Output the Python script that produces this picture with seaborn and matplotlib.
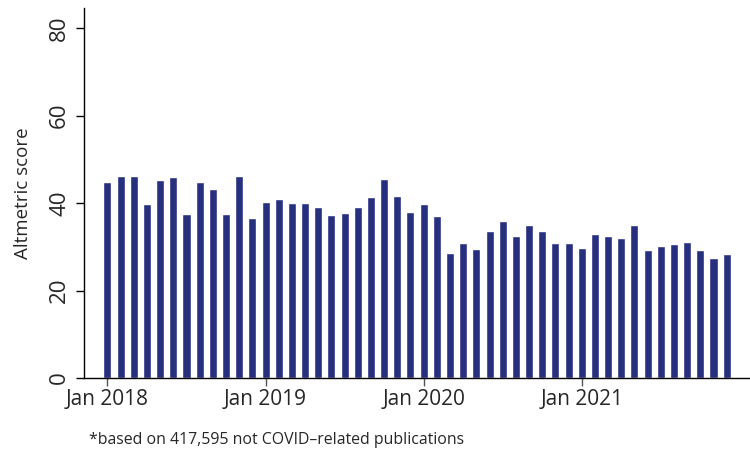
import matplotlib
matplotlib.use("Agg")
import matplotlib.pyplot as plt
import seaborn as sns
import pandas as pd

months = [f"{y}-{m:02d}" for y in (2018, 2019, 2020, 2021) for m in range(1, 13)]
scores = [44.9, 46.2, 46.1, 39.8, 45.2, 45.9, 37.4, 44.9, 43.2, 37.6, 46.2, 36.6,
          40.3, 40.9, 40.1, 40.1, 39.2, 37.2, 37.7, 39.2, 41.4, 45.5, 41.7, 38.0,
          39.8, 37.1, 28.6, 30.8, 29.4, 33.7, 35.9, 32.4, 35.0, 33.6, 30.9, 30.9,
          29.8, 33.0, 32.5, 31.9, 35.0, 29.3, 30.2, 30.7, 31.1, 29.3, 27.5, 28.4]
tick_labels = ["Jan 2018", "Jan 2019", "Jan 2020", "Jan 2021"]
yticks = [0, 20, 40, 60, 80]

df = pd.DataFrame({"month": months, "score": scores})

sns.set_theme(style="white")
plt.rcParams["font.family"] = ["Open Sans", "DejaVu Sans"]

fig = plt.figure(figsize=(7.5, 4.53), dpi=100)
ax = fig.add_axes([84 / 750, 75 / 453, 666 / 750, 370 / 453])

sns.barplot(data=df, x="month", y="score", color="#272F7F", saturation=1,
            width=0.61, ax=ax)

ax.set_xlim(-1.78, 48.77)
ax.set_ylim(0, 84.6)
ax.set_xticks([0, 12, 24, 36])
ax.set_xticklabels(tick_labels, fontsize=15)
ax.set_yticks(yticks)
ax.set_yticklabels([str(v) for v in yticks], fontsize=16, rotation=90, va="center")
ax.set_xlabel("")
ax.set_ylabel("Altmetric score", fontsize=13.5, labelpad=12)

for s in ["top", "right"]:
    ax.spines[s].set_visible(False)
for s in ["left", "bottom"]:
    ax.spines[s].set_color("black")
    ax.spines[s].set_linewidth(1.0)

ax.tick_params(axis="x", bottom=True, length=6, width=1, color="#555555", pad=2)
ax.tick_params(axis="y", left=True, length=6, width=1, color="black", pad=4)

fig.text(89 / 750, 1 - 440 / 453, "*based on 417,595 not COVID\u2013related publications",
         fontsize=11.4, ha="left", va="center")

fig.savefig("out.png", dpi=100)
